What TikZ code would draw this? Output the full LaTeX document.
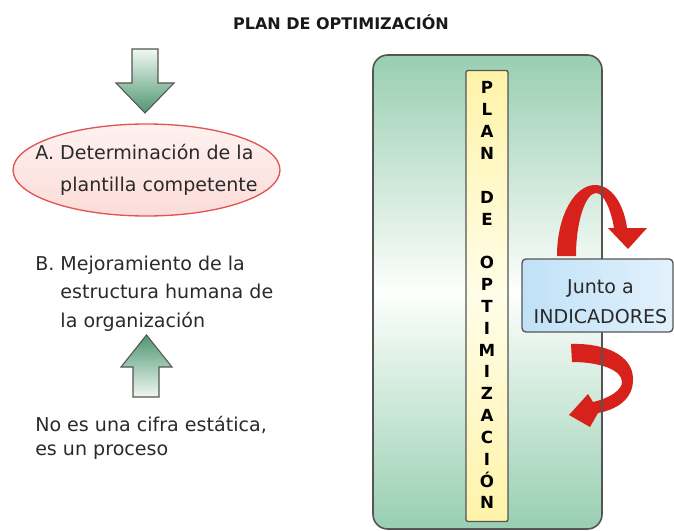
\documentclass[tikz,border=0pt]{standalone}
\usepackage{fontspec}
\setmainfont{DejaVu Sans}
\usetikzlibrary{shapes.geometric}
\definecolor{plangreen}{RGB}{152,206,177}
\definecolor{planwhite}{RGB}{253,255,253}
\definecolor{baryellow}{RGB}{255,243,168}
\definecolor{barpale}{RGB}{255,253,232}
\definecolor{indblue}{RGB}{192,225,247}
\definecolor{indpale}{RGB}{226,241,252}
\definecolor{ovalred}{RGB}{226,84,84}
\definecolor{ovalfill}{RGB}{251,220,216}
\definecolor{ovalpale}{RGB}{254,242,240}
\definecolor{arrowred}{RGB}{214,34,26}
\definecolor{arrowdark}{RGB}{78,150,112}
\definecolor{arrowpale}{RGB}{240,248,243}
\definecolor{txtgray}{RGB}{42,42,42}
\definecolor{edgegray}{RGB}{85,85,85}
\newcommand{\pxu}{0.75pt}
\frenchspacing

\begin{document}
\begin{tikzpicture}[
    x=0.75pt, y=-0.75pt,
    every node/.style={text=txtgray, inner sep=0pt},
    bodytext/.style={align=left, anchor=west},
    blockarrow/.style={draw=edgegray, line width=0.8pt, line join=miter},
    curlarrow/.style={fill=arrowred},
    letter/.style={font=\fontsize{12.5}{13}\selectfont\bfseries, text=black, anchor=base},
]
\useasboundingbox (0,0) rectangle (674,531);

% === Title ===
\node[font=\fontsize{12}{14}\selectfont\bfseries, text=black!90] (title) at (341,22)
    {PLAN DE OPTIMIZACIÓN};

% === Left column ===
\draw[blockarrow, top color=arrowpale, bottom color=arrowdark]
    (132,49) -- (158,49) -- (158,83) -- (174,83) -- (145,113) -- (116,83) -- (132,83) -- cycle;

\node[ellipse, draw=ovalred, line width=1pt, top color=ovalpale, bottom color=ovalfill,
      minimum width=267*\pxu, minimum height=92*\pxu]
    (oval) at (146.5,170) {};
\node[align=left, font=\fontsize{14.3}{24}\selectfont] (detA) at (oval.center)
    {A. Determinación de la\\\hphantom{A. }plantilla competente};

\node[bodytext, font=\fontsize{14.3}{21.4}\selectfont] (mejora) at (35,293.5)
    {B. Mejoramiento de la\\\hphantom{B. }estructura humana de\\\hphantom{B. }la organización};

\draw[blockarrow, top color=arrowdark, bottom color=arrowpale]
    (133,397) -- (133,367) -- (121,367) -- (146.5,335) -- (172,367) -- (159,367) -- (159,397) -- cycle;

\node[bodytext, font=\fontsize{14.3}{18.3}\selectfont] (proceso) at (35,438)
    {No es una cifra estática,\\es un proceso};

% === Plan panel ===
\node[rectangle, rounded corners=11pt, outer sep=0pt,
      top color=plangreen, bottom color=plangreen, middle color=planwhite,
      minimum width=229*\pxu, minimum height=474*\pxu]
    (plan) at (487.5,292) {};

\node[rectangle, rounded corners=1.5pt, draw=edgegray, line width=1pt,
      top color=baryellow, bottom color=baryellow, middle color=barpale,
      minimum width=42*\pxu, minimum height=451*\pxu]
    (bar) at (487,296) {};

\foreach \ch [count=\k from 0] in {P,L,A,N,{},D,E,{},O,P,T,I,M,I,Z,A,C,I,Ó,N}
    \node[letter] (l\k) at (487, 94+\k*21.84) {\ch};

% curved arrows round the indicators box
\fill[curlarrow] (557,256) .. controls (557,215) and (575,185) .. (595,185)
    .. controls (612,185) and (624,205) .. (627,228) -- (647,228) -- (628,249)
    -- (608,228) -- (614,228) .. controls (611,210) and (604,193) .. (596,193)
    .. controls (586,193) and (576,220) .. (576,256) -- cycle;
\fill[curlarrow] (571,344) .. controls (605,343) and (632,355) .. (633,378)
    .. controls (634,400) and (615,410) .. (598,413) -- (590,427) -- (569,415)
    -- (588,394) -- (593,402) .. controls (610,398) and (622,390) .. (622,382)
    .. controls (622,370) and (600,362) .. (572,362) -- cycle;

\draw[edgegray, line width=1.2pt, rounded corners=11pt]
    (plan.south west) rectangle (plan.north east);

% === Indicators box ===
\node[rectangle, rounded corners=3pt, draw=edgegray, line width=1pt,
      left color=indblue, right color=indpale,
      minimum width=151*\pxu, minimum height=73*\pxu]
    (ind) at (597.5,295.5) {};
\node[align=center, font=\fontsize{14.3}{22.5}\selectfont] (indtext) at (600.5,301.5)
    {Junto a\\INDICADORES};

\end{tikzpicture}
\end{document}
